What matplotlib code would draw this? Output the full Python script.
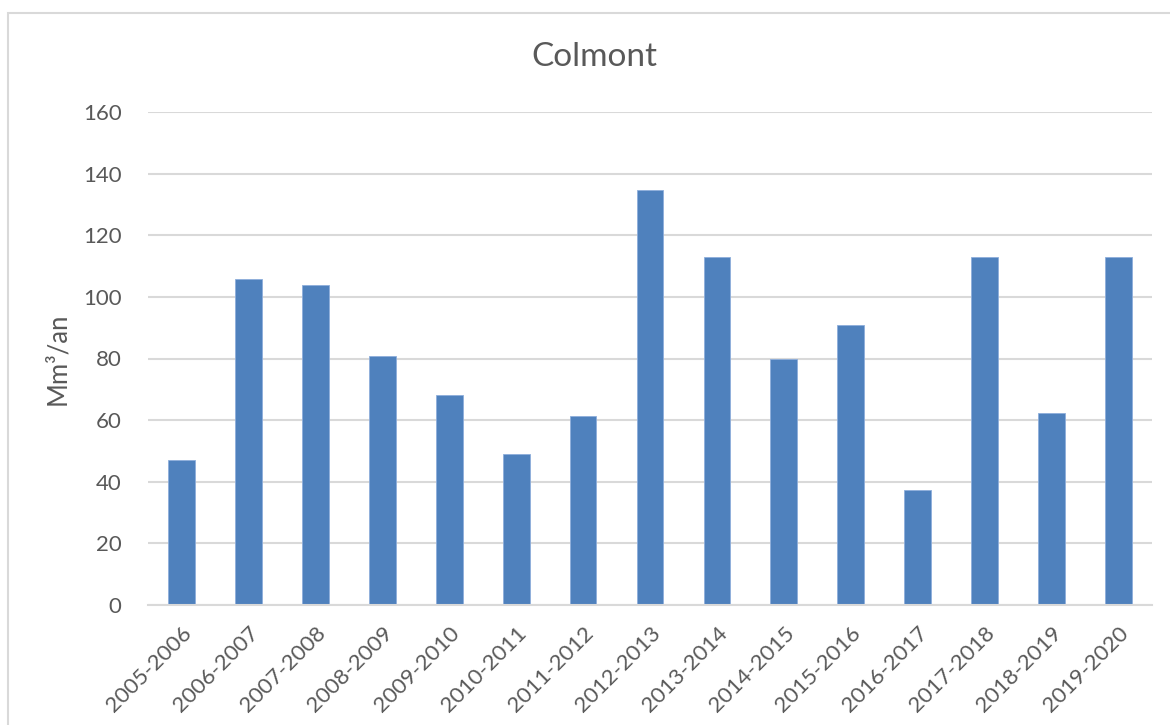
import numpy as np
import matplotlib
matplotlib.use("Agg")
import matplotlib.pyplot as plt
from matplotlib.patches import Rectangle

# ── Data ─────────────────────────────────────────────────────────────────────
seasons = ["2005-2006", "2006-2007", "2007-2008", "2008-2009", "2009-2010",
           "2010-2011", "2011-2012", "2012-2013", "2013-2014", "2014-2015",
           "2015-2016", "2016-2017", "2017-2018", "2018-2019", "2019-2020"]
volumes = [47.1, 105.8, 103.9, 80.8, 68.2, 49.0, 61.3, 134.7, 112.8, 79.7,
           90.9, 37.3, 113.1, 62.2, 112.9]

TEXT = "#595959"
GRID = "#D9D9D9"
BLUE = "#4F81BD"

plt.rcParams["font.family"] = ["Lato", "DejaVu Sans"]

fig = plt.figure(figsize=(11.7, 7.25), dpi=100)
ax = fig.add_axes([148 / 1170, 1 - 605 / 725, (1152 - 148) / 1170, (605 - 112) / 725])

# outer chart border (Excel chart area)
fig.patches.append(Rectangle((8 / 1170, -0.05), 1.2, 1 - 13 / 725 + 0.05,
                             transform=fig.transFigure, fill=False,
                             edgecolor=GRID, linewidth=1.5))

x = np.arange(len(seasons))
ax.bar(x, volumes, width=0.4, color=BLUE, edgecolor="#8EAEDB", linewidth=0.6, zorder=3)

ax.set_xlim(-0.5, len(seasons) - 0.5)
ax.set_ylim(0, 160)
ax.set_yticks(np.arange(0, 161, 20))
ax.grid(axis="y", color=GRID, linewidth=1.5, zorder=0)
for side in ["top", "right", "left"]:
    ax.spines[side].set_visible(False)
ax.spines["bottom"].set_color(GRID)
ax.spines["bottom"].set_linewidth(1.5)
ax.spines["bottom"].set_zorder(4)

ax.tick_params(axis="both", length=0, colors=TEXT, labelsize=16)
ax.tick_params(axis="y", pad=19)
ax.set_xticks(x)
ax.set_xticklabels(seasons, rotation=45, ha="right", rotation_mode="anchor")
ax.tick_params(axis="x", pad=13)

ax.set_ylabel("Mm³/an", fontsize=18.5, color=TEXT, labelpad=9)
fig.text(0.508, 1 - 57 / 725, "Colmont", ha="center", va="center",
         fontsize=24, color=TEXT)

fig.savefig("out.png", dpi=100)
